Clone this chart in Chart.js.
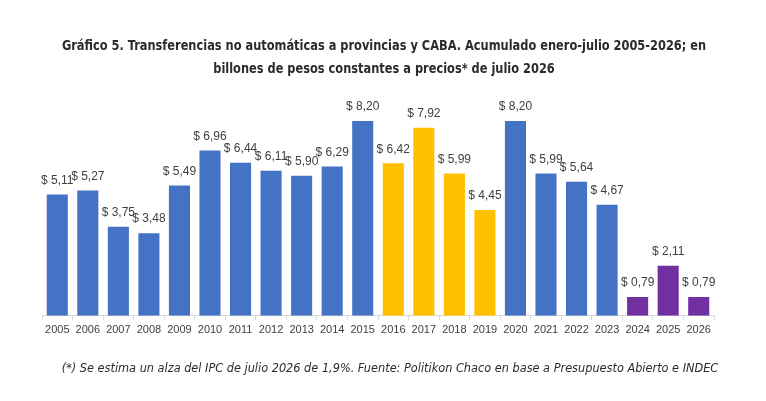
<!DOCTYPE html>
<html>
<head>
<meta charset="utf-8">
<script src="https://cdn.jsdelivr.net/npm/chart.js@4.4.0/dist/chart.umd.min.js"></script>
<style>
  html, body { margin: 0; padding: 0; background: #fff; }
  #wrap { position: relative; width: 766px; height: 401px; overflow: hidden; }
  #titulo { position: absolute; left: 0; width: 768px; top: 34px; text-align: center;
            font-family: 'DejaVu Sans Condensed', 'DejaVu Sans', sans-serif;
            color: #2b2b2b; font-size: 14.4px; font-weight: bold; line-height: 23px; white-space: nowrap;
            transform: scaleX(0.88); transform-origin: 384px 0; }
  #nota { position: absolute; left: 0; width: 780px; top: 360px; text-align: center;
          font-family: 'Liberation Sans Narrow', 'DejaVu Sans Condensed', 'Roboto', sans-serif;
          color: #2b2b2b; font-size: 12.6px; font-style: italic; line-height: 16px; white-space: nowrap; }
</style>
</head>
<body>
<div id="wrap">
  <canvas id="chart"></canvas>
  <div id="titulo"></div>
  <div id="nota"></div>
</div>
<script>
// Data
const years = ['2005', '2006', '2007', '2008', '2009', '2010', '2011', '2012', '2013', '2014', '2015',
    '2016', '2017', '2018', '2019', '2020', '2021', '2022', '2023', '2024', '2025', '2026'];
const transferencias = [5.11, 5.27, 3.75, 3.48, 5.49, 6.96, 6.44, 6.11, 5.90, 6.29, 8.20,
    6.42, 7.92, 5.99, 4.45, 8.20, 5.99, 5.64, 4.67, 0.79, 2.11, 0.79];
const titleLines = [
    'Gráfico 5. Transferencias no automáticas a provincias y CABA. Acumulado enero-julio 2005-2026; en',
    'billones de pesos constantes a precios* de julio 2026'
];
const footnote = '(*) Se estima un alza del IPC de julio 2026 de 1,9%. Fuente: Politikon Chaco en base a Presupuesto Abierto e INDEC';

document.getElementById('titulo').innerHTML = titleLines.join('<br>');
document.getElementById('nota').textContent = footnote;

// Bar colour by period
function barColor(year) {
    const y = Number(year);
    if (y >= 2024) return '#7030A0';
    if (y >= 2016 && y <= 2019) return '#FFC000';
    return '#4472C4';
}

// Draws "$ x,xx" above every bar
const valueLabels = {
    id: 'valueLabels',
    afterDatasetsDraw(chart) {
        const { ctx } = chart;
        const meta = chart.getDatasetMeta(0);
        ctx.save();
        ctx.font = "12px 'Liberation Sans', Arial, sans-serif";
        ctx.fillStyle = '#404040';
        ctx.textAlign = 'center';
        ctx.textBaseline = 'middle';
        meta.data.forEach((bar, i) => {
            const txt = '$ ' + transferencias[i].toFixed(2).replace('.', ',');
            ctx.fillText(txt, bar.x, bar.y - 14);
        });
        ctx.restore();
    }
};

const ctx = document.getElementById('chart').getContext('2d');
const chart = new Chart(ctx, {
    type: 'bar',
    data: {
        labels: years,
        datasets: [{
            data: transferencias,
            backgroundColor: years.map(barColor),
            categoryPercentage: 1,
            barPercentage: 0.69
        }]
    },
    options: {
        responsive: true,
        maintainAspectRatio: false,
        animation: false,
        layout: { padding: { left: 42, right: 52, top: 102, bottom: 60 } },
        scales: {
            x: {
                grid: {
                    display: true,
                    drawOnChartArea: false,
                    offset: true,
                    tickLength: 4,
                    color: '#d9d9d9'
                },
                border: { color: '#d9d9d9' },
                ticks: {
                    padding: 4,
                    color: '#404040',
                    font: { family: "'Liberation Sans', Arial, sans-serif", size: 11 },
                    maxRotation: 0,
                    autoSkip: false
                }
            },
            y: {
                display: false,
                min: 0,
                max: 9
            }
        },
        plugins: {
            legend: { display: false },
            tooltip: { enabled: false }
        }
    },
    plugins: [valueLabels]
});
</script>
</body>
</html>
